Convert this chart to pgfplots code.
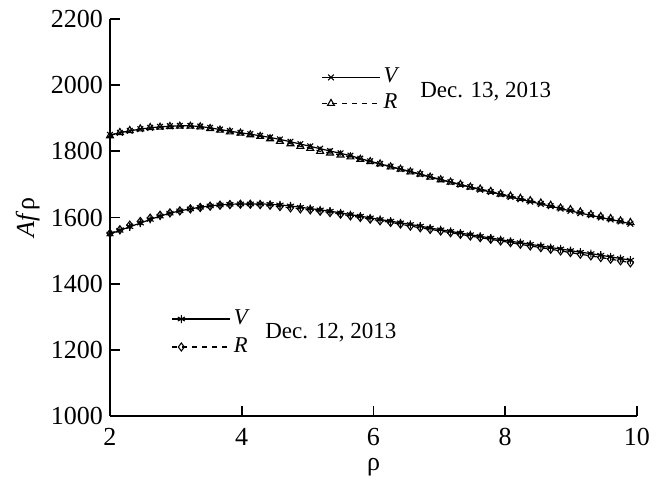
\documentclass[border=0pt]{standalone}
\usepackage{fontspec}
\setmainfont{Liberation Serif}
\usepackage{pgfplots}
\pgfplotsset{compat=1.18}
\usepackage{pgfplotstable}

\pgfplotstableread{
x v13 r13 v12 r12
2.00 1850 1847 1550 1552
2.15 1856 1857 1561 1563
2.30 1862 1863 1572 1577
2.46 1867 1868 1583 1588
2.61 1871 1872 1594 1598
2.76 1874 1873 1604 1607
2.91 1876 1875 1613 1614
3.06 1877 1876 1620 1620
3.22 1877 1876 1626 1626
3.37 1875 1874 1631 1630
3.52 1871 1869 1635 1634
3.67 1866 1864 1638 1637
3.82 1861 1859 1640 1639
3.98 1856 1855 1641 1640
4.13 1852 1850 1641 1640
4.28 1847 1845 1641 1639
4.43 1842 1838 1640 1637
4.58 1836 1830 1638 1633
4.74 1829 1823 1635 1629
4.89 1822 1815 1631 1626
5.04 1815 1809 1627 1623
5.19 1808 1800 1623 1619
5.34 1801 1795 1619 1615
5.50 1794 1789 1614 1610
5.65 1787 1783 1609 1605
5.80 1778 1776 1604 1600
5.95 1770 1769 1599 1595
6.10 1762 1762 1594 1590
6.26 1754 1753 1589 1585
6.41 1746 1746 1584 1580
6.56 1739 1738 1579 1574
6.71 1731 1731 1574 1569
6.86 1723 1722 1568 1564
7.02 1715 1714 1563 1559
7.17 1707 1707 1558 1554
7.32 1699 1700 1553 1549
7.47 1692 1692 1548 1544
7.62 1684 1686 1543 1539
7.78 1677 1679 1538 1534
7.93 1670 1671 1533 1529
8.08 1662 1665 1528 1524
8.23 1655 1658 1524 1519
8.38 1648 1651 1519 1514
8.54 1641 1644 1514 1509
8.69 1634 1637 1509 1504
8.84 1627 1629 1505 1499
8.99 1620 1624 1500 1494
9.14 1613 1617 1495 1489
9.30 1607 1609 1491 1484
9.45 1600 1603 1486 1479
9.60 1594 1597 1481 1474
9.75 1588 1590 1476 1469
9.90 1581 1585 1471 1463
}\data

\pgfplotsset{
  base/.style={
    at={(0,0)}, anchor=south west,
    scale only axis, width=263.5pt, height=198.5pt,
    xmin=2, xmax=10, ymin=1000, ymax=2200,
    legend cell align=left,
    legend image code/.code={\draw[##1, mark repeat=3, mark phase=2] plot coordinates {(0pt,0pt) (4.5pt,0pt) (29pt,0pt)};},
  },
  vline/.style={black, line width=0.6pt, mark size=2pt, mark options={solid, line width=0.55pt}},
  rline/.style={black, line width=0.6pt, dash pattern=on 2.5pt off 2.5pt, mark size=2pt, mark options={solid, fill=white, line width=0.55pt}},
}

\begin{document}
\begin{tikzpicture}
\begin{axis}[
  base,
  axis lines=left,
  axis line style={-, line width=0.9pt},
  tick style={line width=0.9pt, black},
  tick align=inside,
  major tick length=5pt,
  xtick={2,4,6,8,10},
  ytick={1000,1200,1400,1600,1800,2000,2200},
  /pgf/number format/assume math mode=true,
  /pgf/number format/1000 sep={},
  ticklabel style={font=\fontsize{13}{15}\selectfont},
  xticklabel style={yshift=-2.5pt},
  xlabel={ρ}, ylabel={\textit{Af}ρ},
  label style={font=\fontsize{13}{15}\selectfont},
  xlabel style={at={(axis description cs:0.5,-0.128)}, anchor=center},
  ylabel style={at={(axis description cs:-0.156,0.5)}, anchor=center},
  legend style={draw=none, fill=none, at={(axis description cs:0.389,0.82)}, anchor=west,
    font=\fontsize{11.3}{13}\selectfont, row sep=0pt,
    nodes={inner sep=1.5pt, text height=7.5pt, text depth=2.5pt}},
]
\addplot[vline, mark=x] table[x=x, y=v13] {\data};
\addlegendentry{\textit{V}}
\addplot[rline, mark=triangle] table[x=x, y=r13] {\data};
\addlegendentry{\textit{R}}
\addplot[vline, mark=asterisk, forget plot] table[x=x, y=v12] {\data};
\addplot[rline, mark=diamond, forget plot] table[x=x, y=r12] {\data};
\node[anchor=west, font=\fontsize{11.5}{13}\selectfont, inner sep=0pt] at (axis description cs:0.588,0.816) {Dec. 13, 2013};
\node[anchor=west, font=\fontsize{11.5}{13}\selectfont, inner sep=0pt] at (axis description cs:0.294,0.209) {Dec. 12, 2013};
\end{axis}
\begin{axis}[
  base,
  hide axis,
  legend style={draw=none, fill=none, at={(axis description cs:0.105,0.209)}, anchor=west,
    font=\fontsize{11.3}{13}\selectfont, row sep=0pt,
    nodes={inner sep=1.5pt, text height=8pt, text depth=3pt}},
]
\addlegendimage{vline, mark=asterisk}
\addlegendentry{\textit{V}}
\addlegendimage{rline, mark=diamond}
\addlegendentry{\textit{R}}
\end{axis}
\pgfresetboundingbox
\path[use as bounding box] (-55pt,-34.5pt) rectangle (279pt,208pt);
\end{tikzpicture}
\end{document}
